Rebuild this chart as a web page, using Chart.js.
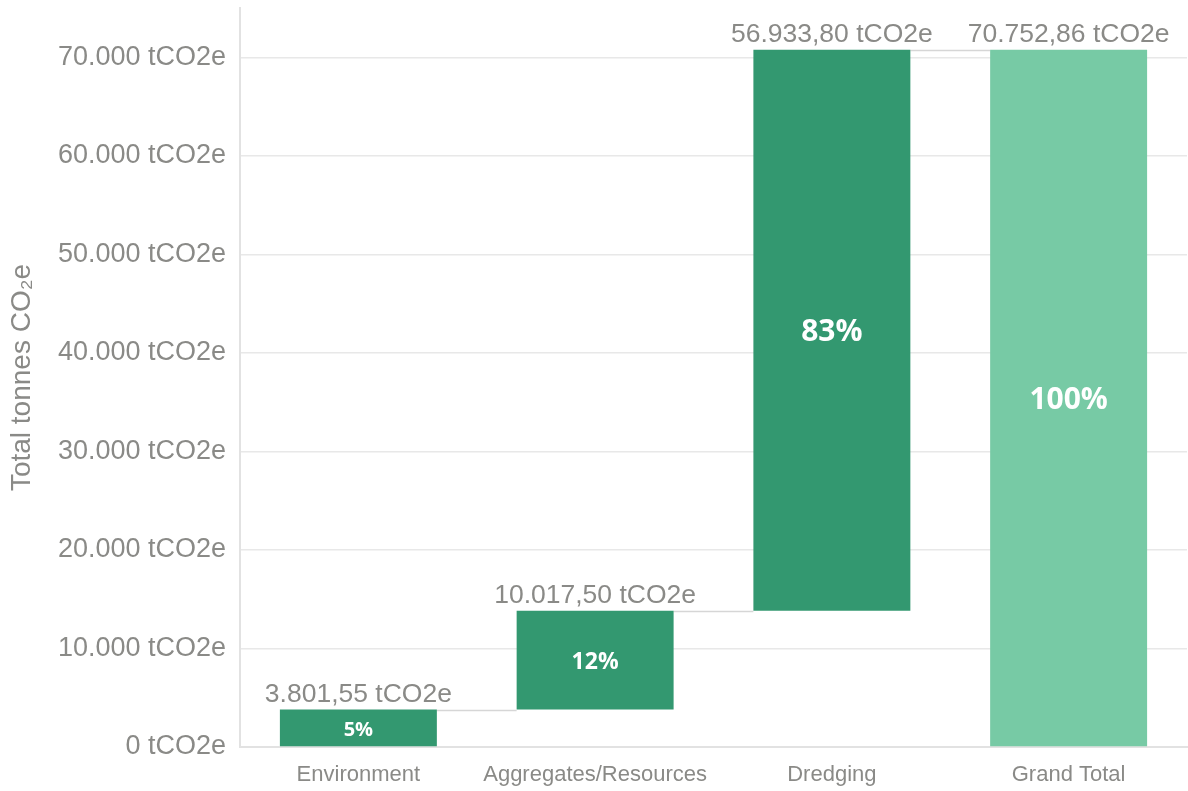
<!DOCTYPE html>
<html>
<head>
<meta charset="utf-8">
<title>Total tonnes CO2e</title>
<script src="https://cdn.jsdelivr.net/npm/chart.js@4.4.1/dist/chart.umd.min.js"></script>
<style>
  html, body { margin: 0; padding: 0; background: #fff; }
  #wrap { width: 1188px; height: 791px; position: relative; }
</style>
</head>
<body>
<div id="wrap"><canvas id="co2Chart"></canvas></div>
<script>
const categories = ["Environment", "Aggregates/Resources", "Dredging", "Grand Total"];
const emissions = [3801.55, 10017.50, 56933.80, 70752.86];
const shareLabels = ["5%", "12%", "83%", "100%"];
const yTicks = [0, 10000, 20000, 30000, 40000, 50000, 60000, 70000];

const textGrey = "#8a8a87";
const darkGreen = "#339870";
const lightGreen = "#77caa5";

// waterfall: each step floats on the running total, the last bar starts at zero
let running = 0;
const floating = emissions.map((v, i) => {
    if (i === emissions.length - 1) return [0, v];
    const seg = [running, running + v];
    running += v;
    return seg;
});

function thousands(n) {
    return String(n).replace(/\B(?=(\d{3})+(?!\d))/g, ".");
}
function tonnes(v) {
    const parts = v.toFixed(2).split(".");
    return thousands(parts[0]) + "," + parts[1] + " tCO2e";
}

// thin connectors between the tops of consecutive bars
const connectors = {
    id: "connectors",
    beforeDatasetsDraw(chart) {
        const ctx = chart.ctx;
        const bars = chart.getDatasetMeta(0).data;
        ctx.save();
        ctx.strokeStyle = "#d6d6d6";
        ctx.lineWidth = 1.5;
        for (let i = 0; i < bars.length - 1; i++) {
            const a = bars[i], b = bars[i + 1];
            const y = Math.round(Math.min(a.y, a.base)) + 0.5;
            ctx.beginPath();
            ctx.moveTo(a.x + a.width / 2, y);
            ctx.lineTo(b.x - b.width / 2, y);
            ctx.stroke();
        }
        ctx.restore();
    }
};

// value above each bar, share inside it
const barLabels = {
    id: "barLabels",
    afterDatasetsDraw(chart) {
        const ctx = chart.ctx;
        const bars = chart.getDatasetMeta(0).data;
        const shareSizes = [20, 23, 30, 30];
        ctx.save();
        ctx.textAlign = "center";
        ctx.textBaseline = "middle";
        bars.forEach((bar, i) => {
            const top = Math.min(bar.y, bar.base);
            const bottom = Math.max(bar.y, bar.base);
            ctx.fillStyle = textGrey;
            ctx.font = "26.5px 'Liberation Sans', Arial, sans-serif";
            ctx.fillText(tonnes(emissions[i]), bar.x, top - 15);
            ctx.fillStyle = "#ffffff";
            ctx.font = "bold " + shareSizes[i] + "px 'Open Sans', sans-serif";
            ctx.fillText(shareLabels[i], bar.x, (top + bottom) / 2 + 2);
        });
        ctx.restore();
    }
};

new Chart(document.getElementById("co2Chart"), {
    type: "bar",
    data: {
        labels: categories,
        datasets: [{
            data: floating,
            backgroundColor: categories.map((c, i) => i === categories.length - 1 ? lightGreen : darkGreen),
            borderWidth: 0,
            borderSkipped: false,
            categoryPercentage: 1,
            barPercentage: 0.663
        }]
    },
    options: {
        responsive: true,
        maintainAspectRatio: false,
        animation: false,
        layout: { padding: { top: 8, right: 1, left: 0, bottom: 0 } },
        plugins: {
            legend: { display: false },
            tooltip: { enabled: false }
        },
        scales: {
            x: {
                grid: { display: false },
                border: { display: true, color: "#e2e2e2", width: 2 },
                ticks: {
                    color: textGrey,
                    font: { family: "'Liberation Sans', Arial, sans-serif", size: 22 },
                    padding: 7,
                    maxRotation: 0
                },
                afterFit(scale) { scale.height = 44; }
            },
            y: {
                min: 0,
                max: 75000,
                afterBuildTicks(scale) {
                    scale.ticks = yTicks.map(v => ({ value: v }));
                },
                grid: { color: "#e8e8e8", lineWidth: 1.5, drawTicks: false },
                border: { display: true, color: "#e2e2e2", width: 2 },
                ticks: {
                    color: textGrey,
                    font: { family: "'Liberation Sans', Arial, sans-serif", size: 27 },
                    padding: 14,
                    callback: v => thousands(v) + " tCO2e"
                },
                title: {
                    display: true,
                    text: "Total tonnes CO₂e",
                    color: textGrey,
                    font: { family: "'Liberation Sans', Arial, sans-serif", size: 28 },
                    padding: { top: 5, bottom: 0 }
                },
                afterFit(scale) {
                    scale.width = 240;
                    scale.paddingTop = 0;
                    scale.paddingBottom = 0;
                }
            }
        }
    },
    plugins: [connectors, barLabels]
});
</script>
</body>
</html>
